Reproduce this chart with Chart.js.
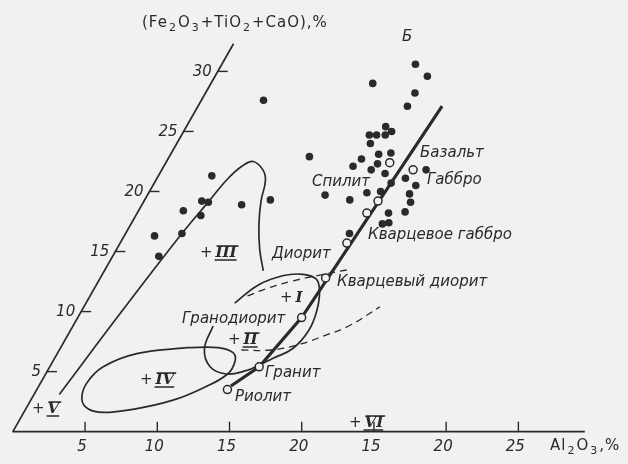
<!DOCTYPE html>
<html>
<head>
<meta charset="utf-8">
<script src="https://cdn.jsdelivr.net/npm/chart.js@4.4.1/dist/chart.umd.min.js"></script>
<style>
  body { margin: 0; background: #f1f1f1; }
  #wrap { width: 628px; height: 464px; }
</style>
</head>
<body>
<div id="wrap"><canvas id="myChart" width="628" height="464"></canvas></div>
<script>
// every pair is [Al2O3 %, (Fe2O3+TiO2+CaO) %] on the oblique axes
const samples = [
    [13.4, 30.6], [14.7, 29.6], [14.5, 28.2], [14.5, 27.1], [11.2, 29.0],
    [13.8, 25.4], [14.4, 25.0], [13.0, 24.7], [13.5, 24.7], [14.1, 24.7],
    [13.4, 24.0], [14.4, 23.1], [15.2, 23.2], [13.4, 22.7], [13.1, 22.1],
    [14.7, 22.3], [14.5, 21.8], [15.6, 21.5], [16.4, 20.7], [17.2, 21.1],
    [18.3, 21.8], [18.2, 20.5], [15.1, 19.9], [16.0, 20.0], [18.1, 19.8],
    [18.5, 19.1], [18.5, 18.3], [17.4, 18.2], [17.4, 17.3], [17.8, 17.4],
    [15.5, 16.5], [9.7, 22.9], [12.3, 19.7], [14.2, 19.3],
    [4.3, 27.6], [3.7, 21.3], [4.0, 19.2], [4.5, 19.1], [3.1, 18.4],
    [4.5, 18.0], [6.9, 18.9], [8.7, 19.3], [2.1, 16.3], [3.9, 16.5], [3.2, 14.6]
];

// average rock compositions (open circles)
const rockNames = ['Базальт', 'Габбро', 'Спилит', 'Кварцевое габбро', 'Диорит',
    'Кварцевый диорит', 'Гранодиорит', 'Гранит', 'Риолит'];
const rockPoints = [
    [15.5, 22.4], [17.4, 21.8], [16.2, 19.2], [15.9, 18.2], [15.7, 15.7],
    [15.6, 12.8], [15.5, 9.5], [14.5, 5.4], [13.2, 3.5]
];

// trend line Б
const lineB = [[13.3, 3.8], [14.5, 5.4], [15.5, 9.5], [16.9, 27.1]];

// field outlines
const fieldIII = [
    [1.75, 3.1], [2.8, 10.0], [3.9, 16.5], [4.5, 19.2], [4.9, 21.0], [5.4, 22.1],
    [6.0, 22.5], [7.0, 21.8], [7.6, 20.9], [8.1, 19.2], [8.9, 17.2], [9.9, 15.2], [11.0, 13.4]
];
const fieldI_II = [
    [9.7, 8.8], [10.0, 6.9], [11.1, 5.4], [12.5, 4.8], [13.8, 5.1], [14.4, 5.5],
    [15.1, 6.1], [16.1, 6.9], [16.5, 8.4], [16.3, 10.0], [15.7, 11.7], [15.0, 12.7],
    [13.9, 13.1], [12.6, 13.0], [11.2, 12.2], [10.3, 10.7]
];
const fieldIV = [
    [8.7, 7.0], [10.9, 7.0], [12.1, 6.6], [12.6, 5.9], [12.6, 4.8], [11.4, 3.6],
    [9.8, 2.6], [7.6, 1.9], [5.5, 1.6], [4.3, 1.9], [3.5, 2.7], [3.2, 4.0],
    [3.7, 5.4], [5.5, 6.5], [8.7, 7.0]
];
const dashedUpper = [[10.9, 11.3], [11.9, 11.9], [13.3, 12.5], [15.3, 13.1], [16.9, 13.5]];
const dashedLower = [[12.6, 6.8], [14.7, 6.8], [16.5, 7.3], [17.8, 8.0], [19.1, 8.8], [20.5, 10.4]];

// axes
const xTicks = [5, 10, 15, 20, 25, 30, 35];
const xTickLabels = ['5', '10', '15', '20', '15', '20', '25'];
const yTicks = [5, 10, 15, 20, 25, 30];
const xAxisEnd = 39.6;
const yAxisEnd = 32.3;

const SKEW = 0.473;   // horizontal shift of the slanted axis per unit
const INK = '#2a2a2a';
const BG = '#f1f1f1';

const toXY = p => ({x: p[0] + SKEW * p[1], y: p[1]});

function lineSet(pts, opts) {
    return Object.assign({
        data: pts.map(toXY),
        showLine: true,
        pointRadius: 0,
        borderColor: INK,
        borderWidth: 1.7,
        tension: 0.4,
        fill: false,
        order: 3
    }, opts || {});
}

function drawRich(ctx, parts, x, y, size, style) {
    let cx = x;
    parts.forEach(p => {
        const sub = p[1];
        ctx.font = style + ' ' + (sub ? Math.round(size * 0.72) : size) + 'px "DejaVu Sans"';
        ctx.letterSpacing = '1px';
        ctx.fillText(p[0], cx, sub ? y + size * 0.35 : y);
        cx += ctx.measureText(p[0]).width + 1;
    });
    ctx.letterSpacing = '0px';
}

function drawRoman(ctx, x, y, num, bars) {
    ctx.font = 'italic 15px "DejaVu Sans"';
    ctx.textAlign = 'left';
    ctx.fillText('+', x, y);
    const nx = x + ctx.measureText('+').width + 3;
    ctx.font = 'italic bold 15px "DejaVu Serif"';
    ctx.fillText(num, nx, y);
    if (bars) {
        const w = ctx.measureText(num).width;
        ctx.lineWidth = 1.4;
        ctx.beginPath();
        ctx.moveTo(nx + 1, y - 7); ctx.lineTo(nx + w + 2, y - 7);
        ctx.moveTo(nx - 1, y + 7); ctx.lineTo(nx + w, y + 7);
        ctx.stroke();
    }
}

const decor = {
    id: 'decor',
    afterDatasetsDraw(chart) {
        const {ctx, scales: {x, y}} = chart;
        const px = (a, b) => x.getPixelForValue(a + SKEW * b);
        const py = b => y.getPixelForValue(b);
        ctx.save();
        ctx.strokeStyle = INK;
        ctx.fillStyle = INK;
        ctx.lineWidth = 1.4;

        // horizontal axis ticks point upward
        ctx.font = 'italic 15px "DejaVu Sans"';
        ctx.textAlign = 'center';
        ctx.textBaseline = 'middle';
        xTicks.forEach((t, i) => {
            const X = px(t, 0), Y = py(0);
            ctx.beginPath(); ctx.moveTo(X, Y); ctx.lineTo(X, Y - 10); ctx.stroke();
            ctx.fillText(xTickLabels[i], X - 3, Y + 15);
        });

        // slanted axis ticks point right
        ctx.textAlign = 'right';
        yTicks.forEach(t => {
            const X = px(0, t), Y = py(t);
            ctx.beginPath(); ctx.moveTo(X, Y); ctx.lineTo(X + 10, Y); ctx.stroke();
            ctx.fillText(String(t), X - 6, Y + 1);
        });

        // axis titles
        ctx.textAlign = 'left';
        drawRich(ctx, [['(Fe', 0], ['2', 1], ['O', 0], ['3', 1], ['+TiO', 0], ['2', 1], ['+CaO),%', 0]],
            142, 23, 15, 'normal');
        drawRich(ctx, [['Al', 0], ['2', 1], ['O', 0], ['3', 1], [',%', 0]], 550, 446, 15, 'normal');

        // rock labels
        ctx.font = 'italic 15px "DejaVu Sans"';
        const labels = [
            ['Б', 402, 37], ['Базальт', 420, 153], ['Габбро', 427, 180], ['Спилит', 312, 182],
            ['Кварцевое габбро', 368, 235], ['Диорит', 272, 254], ['Кварцевый диорит', 337, 282],
            ['Гранодиорит', 182, 319], ['Гранит', 265, 373], ['Риолит', 235, 397]
        ];
        labels.forEach(l => ctx.fillText(l[0], l[1], l[2]));

        // field numbers
        drawRoman(ctx, 200, 253, 'III', true);
        drawRoman(ctx, 280, 298, 'I', false);
        drawRoman(ctx, 228, 340, 'II', true);
        drawRoman(ctx, 140, 380, 'IV', true);
        drawRoman(ctx, 32, 409, 'V', true);
        drawRoman(ctx, 349, 423, 'VI', true);
        ctx.restore();
    }
};

const ctx = document.getElementById('myChart').getContext('2d');

const myChart = new Chart(ctx, {
    type: 'scatter',
    data: {
        datasets: [
            {
                data: rockPoints.map(toXY),
                pointRadius: 4,
                pointBackgroundColor: BG,
                pointBorderColor: INK,
                pointBorderWidth: 1.5,
                order: 0
            },
            lineSet(lineB, {borderWidth: 3.2, tension: 0, order: 1}),
            {
                data: samples.map(toXY),
                pointRadius: 3.8,
                pointBackgroundColor: INK,
                pointBorderWidth: 0,
                order: 2
            },
            lineSet(fieldIII),
            lineSet(fieldI_II),
            lineSet(fieldIV),
            lineSet(dashedUpper, {borderDash: [7, 5], borderWidth: 1.3}),
            lineSet(dashedLower, {borderDash: [7, 5], borderWidth: 1.3}),
            lineSet([[-0.03, 0], [xAxisEnd, 0]], {tension: 0}),
            lineSet([[0, 0], [0, yAxisEnd]], {tension: 0})
        ]
    },
    options: {
        responsive: false,
        animation: false,
        layout: {padding: 0},
        plugins: {
            legend: {display: false},
            tooltip: {enabled: false}
        },
        scales: {
            x: {type: 'linear', display: false, min: -0.51, max: 42.21},
            y: {type: 'linear', display: false, min: -2.236, max: 35.488}
        }
    },
    plugins: [decor]
});
</script>
</body>
</html>
